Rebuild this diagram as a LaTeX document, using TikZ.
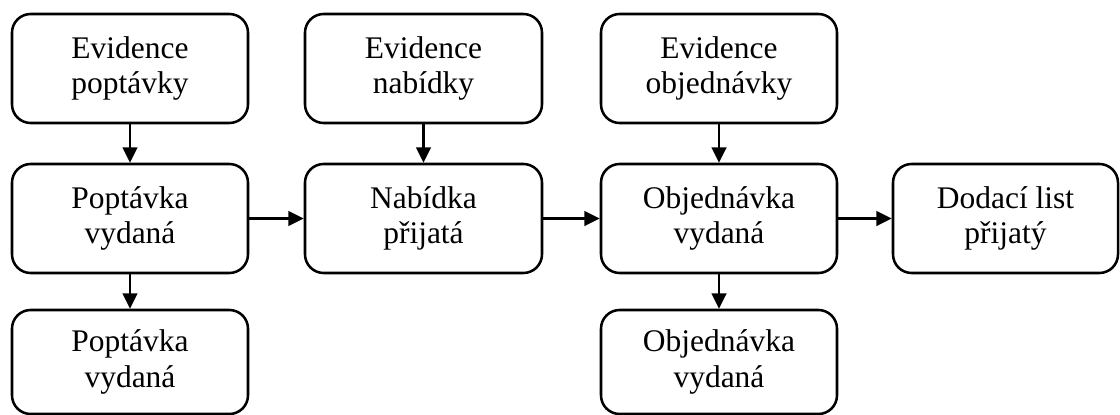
\documentclass[tikz,border=0pt]{standalone}
\usepackage{fontspec}
\setmainfont{Liberation Serif}
\usetikzlibrary{arrows.meta}
\begin{document}
\begin{tikzpicture}[x=0.75pt,y=-0.75pt,
  box/.style={draw, line width=1.9pt, rounded corners=14pt, minimum width=#1*0.75pt,
    minimum height=109*0.75pt, align=center, inner sep=0pt,
    font=\fontsize{23.6pt}{26.5pt}\selectfont},
  box/.default=236,
  conn/.style={line width=1.8pt, -{Triangle[length=11.5pt,width=11pt]}}]
\useasboundingbox (0,0) rectangle (1120,414);
\node[box] (ep) at (130,68.5) {Evidence\\poptávky};
\node[box=237] (en) at (423.5,68.5) {Evidence\\nabídky};
\node[box] (eo) at (719,68.5) {Evidence\\objednávky};
\node[box] (pv) at (130,218.5) {Poptávka\\vydaná};
\node[box=237] (np) at (423.5,218.5) {Nabídka\\přijatá};
\node[box] (ov) at (719,218.5) {Objednávka\\vydaná};
\node[box=225] (dl) at (1005.5,218.5) {Dodací list\\přijatý};
\node[box, minimum height=104*0.75pt] (pv2) at (130,362) {Poptávka\\vydaná};
\node[box, minimum height=104*0.75pt] (ov2) at (719,362) {Objednávka\\vydaná};
\draw[conn] (ep) -- (pv);
\draw[conn] (en) -- (np);
\draw[conn] (eo) -- (ov);
\draw[conn] (pv) -- (pv2);
\draw[conn] (ov) -- (ov2);
\draw[conn] (pv) -- (np);
\draw[conn] (np) -- (ov);
\draw[conn] (ov) -- (dl);
\end{tikzpicture}
\end{document}
